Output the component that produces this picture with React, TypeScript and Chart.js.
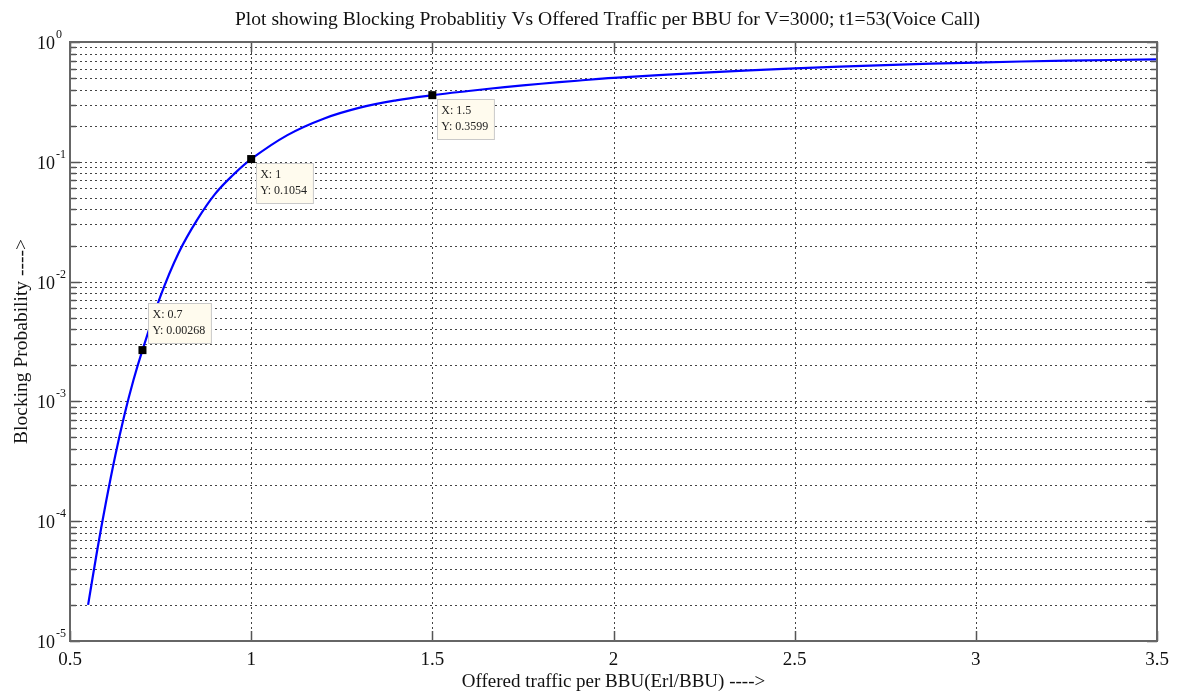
import React, { useEffect, useRef } from "react";
import { Chart, registerables } from "chart.js";

Chart.register(...registerables);

// ---- data ----
const offeredTraffic = [
  0.55, 0.575, 0.6, 0.625, 0.65, 0.675, 0.7, 0.75, 0.8, 0.85, 0.9, 0.95, 1.0,
  1.1, 1.2, 1.3, 1.4, 1.5, 1.6, 1.7, 1.8, 1.9, 2.0, 2.25, 2.5, 2.75, 3.0, 3.25, 3.5,
];
const blockingProbability = [
  2e-5, 5.69e-5, 1.48e-4, 3.54e-4, 7.66e-4, 1.5e-3, 0.00268, 0.00759, 0.0174,
  0.0324, 0.0537, 0.0776, 0.1054, 0.167, 0.229, 0.283, 0.326, 0.3599, 0.39,
  0.42, 0.448, 0.475, 0.502, 0.556, 0.602, 0.641, 0.674, 0.698, 0.716,
];

const xTickValues = [0.5, 1, 1.5, 2, 2.5, 3, 3.5];
const xTickLabels = ["0.5", "1", "1.5", "2", "2.5", "3", "3.5"];
const yDecadeExponents = [-5, -4, -3, -2, -1, 0];
const yTickExponentLabels = ["-5", "-4", "-3", "-2", "-1", "0"];
const minorMultipliers = [2, 3, 4, 5, 6, 7, 8, 9];

const tipX = [0.7, 1, 1.5];
const tipY = [0.00268, 0.1054, 0.3599];
const tipXText = ["X: 0.7", "X: 1", "X: 1.5"];
const tipYText = ["Y: 0.00268", "Y: 0.1054", "Y: 0.3599"];

const titleText =
  "Plot showing Blocking Probablitiy Vs Offered Traffic per BBU for V=3000; t1=53(Voice Call)";
const xAxisTitle = "Offered traffic per BBU(Erl/BBU) ---->";
const yAxisTitle = "Blocking Probability ---->";

const X_MIN = 0.5;
const X_MAX = 3.5;
const Y_MIN = 1e-5;
const Y_MAX = 1;

const SERIF = '"Liberation Serif", "Times New Roman", "DejaVu Serif", serif';

const matlabPlugin = {
  id: "matlabLook",
  beforeDatasetsDraw(chart: any) {
    const { ctx, chartArea: a, scales } = chart;
    const xs = scales.x;
    const ys = scales.y;
    ctx.save();
    ctx.lineWidth = 1;
    ctx.strokeStyle = "#444";
    ctx.setLineDash([2, 3]);
    for (const d of yDecadeExponents) {
      const vals = [1, ...minorMultipliers].map((m) => m * Math.pow(10, d));
      for (const v of vals) {
        if (v <= Y_MIN * 1.0001 || v >= Y_MAX * 0.9999) continue;
        const y = Math.round(ys.getPixelForValue(v)) + 0.5;
        ctx.beginPath();
        ctx.moveTo(a.left, y);
        ctx.lineTo(a.right, y);
        ctx.stroke();
      }
    }
    for (const t of xTickValues) {
      if (t <= X_MIN || t >= X_MAX) continue;
      const x = Math.round(xs.getPixelForValue(t)) + 0.5;
      ctx.beginPath();
      ctx.moveTo(x, a.top);
      ctx.lineTo(x, a.bottom);
      ctx.stroke();
    }
    ctx.restore();
  },
  afterDatasetsDraw(chart: any) {
    const { ctx, chartArea: a, scales } = chart;
    const xs = scales.x;
    const ys = scales.y;
    ctx.save();
    ctx.setLineDash([]);
    ctx.strokeStyle = "#555";
    ctx.lineWidth = 1.5;
    for (const d of yDecadeExponents) {
      const vals = [1, ...minorMultipliers].map((m) => m * Math.pow(10, d));
      vals.forEach((v, i) => {
        if (v < Y_MIN * 0.9999 || v > Y_MAX * 1.0001) return;
        const y = Math.round(ys.getPixelForValue(v)) + 0.5;
        const len = i === 0 ? 10 : 6;
        ctx.beginPath();
        ctx.moveTo(a.left, y);
        ctx.lineTo(a.left + len, y);
        ctx.moveTo(a.right, y);
        ctx.lineTo(a.right - len, y);
        ctx.stroke();
      });
    }
    for (const t of xTickValues) {
      const x = Math.round(xs.getPixelForValue(t)) + 0.5;
      ctx.beginPath();
      ctx.moveTo(x, a.bottom);
      ctx.lineTo(x, a.bottom - 10);
      ctx.moveTo(x, a.top);
      ctx.lineTo(x, a.top + 10);
      ctx.stroke();
    }
    ctx.strokeStyle = "#666";
    ctx.lineWidth = 2;
    ctx.strokeRect(a.left, a.top, a.right - a.left, a.bottom - a.top);

    // tick labels
    ctx.fillStyle = "#111";
    ctx.font = `19px ${SERIF}`;
    ctx.textAlign = "center";
    ctx.textBaseline = "alphabetic";
    xTickValues.forEach((t, i) => {
      const x = xs.getPixelForValue(t);
      ctx.fillText(xTickLabels[i], x, a.bottom + 24);
    });
    yDecadeExponents.forEach((d, i) => {
      const y = ys.getPixelForValue(Math.pow(10, d));
      ctx.font = `18px ${SERIF}`;
      ctx.textAlign = "right";
      ctx.fillText("10", a.left - 15, y + 7);
      ctx.font = `12px ${SERIF}`;
      ctx.textAlign = "left";
      ctx.fillText(yTickExponentLabels[i], a.left - 14, y - 4);
    });

    // titles
    const cx = (a.left + a.right) / 2;
    ctx.textAlign = "center";
    ctx.font = `19.6px ${SERIF}`;
    ctx.fillText(titleText, cx - 6, 25);
    ctx.font = `19px ${SERIF}`;
    ctx.fillText(xAxisTitle, cx, a.bottom + 46);
    ctx.save();
    ctx.translate(27, (a.top + a.bottom) / 2);
    ctx.rotate(-Math.PI / 2);
    ctx.font = `19.5px ${SERIF}`;
    ctx.fillText(yAxisTitle, 0, 0);
    ctx.restore();

    // data tips
    tipX.forEach((tx, i) => {
      const px = xs.getPixelForValue(tx);
      const py = ys.getPixelForValue(tipY[i]);
      ctx.font = `12px ${SERIF}`;
      const w =
        Math.max(ctx.measureText(tipXText[i]).width, ctx.measureText(tipYText[i]).width) + 10;
      const h = 40;
      let bx = px + 5;
      let by = py + 4;
      if (i === 0) {
        bx = px + 6;
        by = py - 7 - h;
      }
      ctx.fillStyle = "#fffbee";
      ctx.fillRect(bx, by, w, h);
      ctx.strokeStyle = "#c9c9c9";
      ctx.lineWidth = 1;
      ctx.strokeRect(Math.round(bx) + 0.5, Math.round(by) + 0.5, w, h);
      ctx.fillStyle = "#222";
      ctx.textAlign = "left";
      ctx.textBaseline = "middle";
      ctx.fillText(tipXText[i], bx + 4, by + 12);
      ctx.fillText(tipYText[i], bx + 4, by + 28);
      ctx.textBaseline = "alphabetic";
      ctx.fillStyle = "#000";
      ctx.fillRect(px - 4, py - 4, 8, 8);
    });
    ctx.restore();
  },
};

export default function App() {
  const canvasRef = useRef<HTMLCanvasElement>(null);

  useEffect(() => {
    document.body.style.margin = "0";
    const canvas = canvasRef.current;
    if (!canvas) return;
    const points = offeredTraffic.map((x, i) => ({ x, y: blockingProbability[i] }));
    const chart = new Chart(canvas, {
      type: "line",
      data: {
        datasets: [
          {
            data: points,
            borderColor: "#0000ff",
            borderWidth: 2.2,
            pointRadius: 0,
            fill: false,
            tension: 0.4,
          },
        ],
      },
      options: {
        responsive: false,
        animation: false,
        devicePixelRatio: 1,
        layout: { padding: { left: 70, right: 25, top: 42, bottom: 53 } },
        plugins: {
          legend: { display: false },
          tooltip: { enabled: false },
          title: { display: false },
        },
        scales: {
          x: { type: "linear", min: X_MIN, max: X_MAX, display: false },
          y: { type: "logarithmic", min: Y_MIN, max: Y_MAX, display: false },
        },
      },
      plugins: [matlabPlugin],
    } as any);
    return () => chart.destroy();
  }, []);

  return (
    <div style={{ position: "absolute", left: 0, top: 0, width: 1182, height: 694, background: "#fff" }}>
      <canvas ref={canvasRef} width={1182} height={694} style={{ width: 1182, height: 694, display: "block" }} />
    </div>
  );
}
